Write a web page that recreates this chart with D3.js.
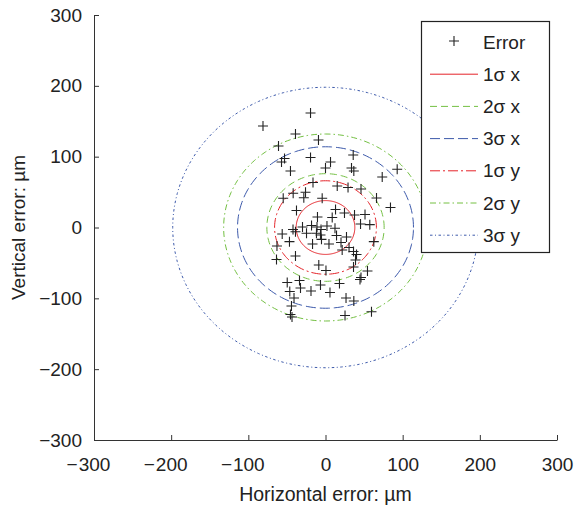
<!DOCTYPE html>
<html>
<head>
<meta charset="utf-8">
<script src="https://cdn.jsdelivr.net/npm/d3@7"></script>
<style>
  body { margin: 0; background: #fff; }
  text { font-family: "Liberation Sans", Arial, sans-serif; fill: #222; }
</style>
</head>
<body>
<script>
var width = 574;
var height = 509;

// error samples (µm)
var errX = [-19.4, -81, -38.9, -9.1, -60.9, -19.4, -53.1, -57, -45.4, 0, 6.5, 35.9, 33.7, 36.7, 92.9, 73.5,
    -16.2, 15.2, 29.2, 46, -25.9, -28.1, -41.9, -54.8, -4.3, 66.1, 84.2, -37.6, -10.4, 13, 24.6, 37.6, 51.2, 8.7,
    45.4, 57.4, -29.8, -18.1, -11, -5.8, 1.9, 12.3, -42.1, -38.9, -56.1, -24.6, -11.7, -6.5, -5.2, 14.3, 27.2,
    -46.7, -16.8, 4.5, 20.1, 30.5, 62.6, -62.9, 21.6, 36.3, 40.2, -38.9, -63.5, 38.9, 36.3, -8.7, 0.6, 54.4,
    44.7, 46, -49.6, -33.7, -32.4, -18.8, -6.5, 18.1, -46.3, 5.8, -40.8, 26.6, 36.7, -44.1, -45.4, -43.4, 25.3, 59.6];
var errY = [161.6, 143.3, 132, 123.5, 115, 98.8, 97.4, 92.5, 79.8, 84, 92.5, 102.4, 84, 79.8, 82.2, 71.3,
    63.5, 58.6, 56.5, 54.4, 49.7, 42.1, 48.3, 41.2, 41.2, 41.6, 28.2, 24, 14.8, 25.4, 20.5, 17.6, 18.4, 14.1,
    4.9, 4, 0.7, 2.8, 0.7, -2.8, 2.1, -1.1, -2.8, -5.9, -9.2, -8.2, -8.2, -10.6, -16.7, -11.3, -13.4,
    -20, -23.3, -23.3, -21.2, -28.2, -20, -26.1, -31.8, -33.9, -38.1, -40.2, -45.2, -45.9, -55.8, -52.9, -60.7, -61.4,
    -73.4, -70.6, -77.6, -74.8, -85.4, -89.6, -81.2, -79.1, -90.4, -91.8, -99.5, -99.5, -103.8, -110.8, -122.8, -126.4, -124.2, -118.9];

var sigmaX = 38;
var sigmaY = 66;

var ringNames = ["1σ x", "2σ x", "3σ x", "1σ y", "2σ y", "3σ y"];
var ringRadii = [sigmaX, 2 * sigmaX, 3 * sigmaX, sigmaY, 2 * sigmaY, 3 * sigmaY];
var ringColors = ["#e52329", "#74c043", "#3d5aab", "#e52329", "#74c043", "#3d5aab"];
var ringDashes = ["none", "7,4", "10,4", "10,3,2,3", "6,3,1.5,3", "2.5,2.5,1,2.5"];

var tickValues = [-300, -200, -100, 0, 100, 200, 300];

var margin = {left: 94, right: 17, top: 15, bottom: 69};

var svg = d3.select('body').append('svg')
    .attr('width', width)
    .attr('height', height);

var x = d3.scaleLinear()
    .domain([-300, 300])
    .range([margin.left, width - margin.right]);

var y = d3.scaleLinear()
    .domain([-300, 300])
    .range([height - margin.bottom, margin.top]);

// sigma rings, circles in data units
var ringLine = d3.line()
    .x(function (d) { return x(d[0]); })
    .y(function (d) { return y(d[1]); });

ringRadii.forEach(function (r, i) {
    var pts = d3.range(0, 361, 2).map(function (a) {
        var t = a * Math.PI / 180;
        return [r * Math.cos(t), r * Math.sin(t)];
    });
    svg.append('path')
        .attr('d', ringLine(pts))
        .attr('fill', 'none')
        .attr('stroke', ringColors[i])
        .attr('stroke-width', 1)
        .attr('stroke-dasharray', ringDashes[i]);
});

// error markers
var plus = function (px, py, s) {
    return 'M' + (px - s) + ',' + py + 'H' + (px + s) + 'M' + px + ',' + (py - s) + 'V' + (py + s);
};

svg.append('g').selectAll('path')
    .data(errX)
    .enter()
    .append('path')
    .attr('d', function (d, i) { return plus(x(d), y(errY[i]), 5); })
    .attr('stroke', '#222')
    .attr('stroke-width', 1.1);

// axes, ticks inward
var fmt = function (d) { return d < 0 ? '\u2212' + Math.abs(d) : String(d); };
var fontSize = '19px';

var xAxis = svg.append('g')
    .attr('transform', 'translate(0,' + y(-300) + ')')
    .call(d3.axisBottom(x).tickValues(tickValues).tickSize(-5).tickSizeOuter(0)
        .tickFormat(function (d) { return Math.abs(d); }).tickPadding(18));

var yAxis = svg.append('g')
    .attr('transform', 'translate(' + x(-300) + ',0)')
    .call(d3.axisLeft(y).tickValues(tickValues).tickSize(-5).tickSizeOuter(0).tickFormat(fmt).tickPadding(12));

[xAxis, yAxis].forEach(function (g) {
    g.select('.domain').attr('stroke', '#333');
    g.selectAll('.tick line').attr('stroke', '#333');
    g.selectAll('.tick text')
        .style('font-family', '"Liberation Sans", Arial, sans-serif')
        .style('font-size', fontSize)
        .attr('fill', '#222');
});

// x labels: digits centred on the tick, minus sign hanging to the left
xAxis.selectAll('.tick').filter(function (d) { return d < 0; }).each(function () {
    var t = d3.select(this).select('text');
    var w = t.node().getComputedTextLength();
    d3.select(this).append('text')
        .attr('x', -w / 2 - 1)
        .attr('y', t.attr('y'))
        .attr('dy', t.attr('dy'))
        .attr('text-anchor', 'end')
        .attr('fill', '#222')
        .style('font-size', fontSize)
        .text('\u2212');
});

svg.append('text')
    .attr('x', x(0))
    .attr('y', 501)
    .attr('text-anchor', 'middle')
    .style('font-size', '19.5px')
    .text('Horizontal error: µm');

svg.append('text')
    .attr('transform', 'translate(25,' + y(0) + ') rotate(-90)')
    .attr('text-anchor', 'middle')
    .style('font-size', '19px')
    .text('Vertical error: µm');

// legend
var legend = svg.append('g');
legend.append('rect')
    .attr('x', 421.5)
    .attr('y', 21.5)
    .attr('width', 128)
    .attr('height', 231)
    .attr('fill', '#fff')
    .attr('stroke', '#222')
    .attr('stroke-width', 1.2);

var rowY = function (i) { return 42 + i * 32.2; };

legend.append('path')
    .attr('d', plus(454, rowY(0) - 1, 5))
    .attr('stroke', '#222')
    .attr('stroke-width', 1.1);
legend.append('text')
    .attr('x', 483)
    .attr('y', rowY(0) + 6.5)
    .style('font-size', fontSize)
    .text('Error');

ringNames.forEach(function (name, i) {
    var yy = rowY(i + 1);
    legend.append('line')
        .attr('x1', 430).attr('x2', 478)
        .attr('y1', yy).attr('y2', yy)
        .attr('stroke', ringColors[i])
        .attr('stroke-width', 1)
        .attr('stroke-dasharray', ringDashes[i]);
    legend.append('text')
        .attr('x', 483)
        .attr('y', yy + 6.5)
        .style('font-size', fontSize)
        .text(name);
});
</script>
</body>
</html>
